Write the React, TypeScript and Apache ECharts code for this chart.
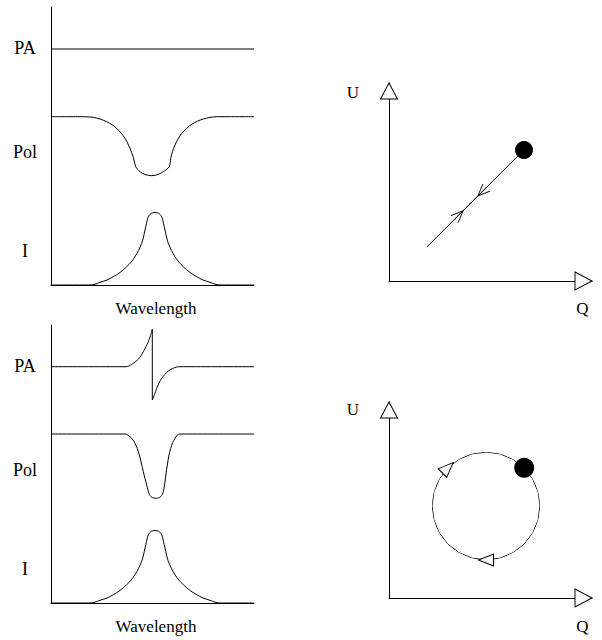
import React, { useEffect, useRef } from 'react';
import * as echarts from 'echarts';

// ---------- data ----------
const profileLabels = ['I', 'Pol', 'PA'];
const profileLabelLevels = [34, 133, 237];
const wavelengthLabel = 'Wavelength';
const qLabel = 'Q';
const uLabel = 'U';

// Profile panels: x = wavelength (0..203), y = stacked profile level (0..278)
const paTop = [[0, 236], [203, 236]];

const polTop = [
  [0, 168.3], [28, 168.3], [35, 168.2], [42.3, 167.7], [49, 166], [55.7, 163.3], [61, 160.3],
  [65.7, 156.7], [70, 152], [74, 146.7], [77, 141], [79.7, 135], [81.5, 130], [83, 125],
  [84.7, 118.3], [89, 113.3], [94, 110.5], [100.7, 109.3], [107, 110.5], [112.3, 113.3],
  [118.3, 118.3], [119.7, 126.7], [121.5, 133.5], [124, 140], [127, 146], [130.7, 151.7],
  [135.5, 156.5], [140.7, 160.7], [146.5, 163.8], [152.3, 166], [159, 167.6], [165.7, 168.3],
  [172, 168.3], [203, 168.3],
];

const intensity = [
  [0, 0], [30, 0], [39, 0], [44, 0.8], [49, 2.7], [56, 5], [62.3, 8.3], [69, 12.5], [75.7, 18.3],
  [80, 22.8], [84, 28.3], [87.5, 34.5], [90.7, 41.7], [92.5, 48], [94, 55], [95.5, 61.5],
  [96.7, 66.7], [98, 69.5], [99.7, 71.3], [101.5, 72.2], [104, 72.5], [106.5, 72.2], [108.3, 71.3],
  [110, 69.5], [111.3, 66.7], [112.5, 61.5], [114, 55], [115.5, 48], [117.3, 41.7], [120.5, 34.5],
  [124, 28.3], [128, 22.8], [132.3, 18.3], [139, 12.5], [145.7, 8.3], [152, 5], [159, 2.7],
  [164, 0.8], [169, 0], [178, 0], [203, 0],
];

const paBottom = [
  [0, 236.3], [68, 236.3], [75.7, 236.3], [80.7, 238.7], [84, 241], [87.3, 243.7], [90, 247.3],
  [92.3, 251.3], [95, 256.3], [97.3, 261.3], [99.5, 267.5], [101.3, 273.7], [101.3, 203],
  [103.5, 208.5], [105.7, 214.7], [108, 220], [110.7, 224.7], [114, 228.7], [117.3, 232],
  [121.5, 234.5], [125.7, 236], [129, 236.3], [136, 236.3], [203, 236.3],
];

const polBottom = [
  [0, 169], [66, 169], [74, 169], [79, 166.3], [82, 163], [84, 159.7], [86.3, 154.5], [88.3, 148],
  [90.3, 140], [92.3, 131.3], [94, 124.5], [95.7, 118], [97, 113], [98.3, 108.7], [100, 106.3],
  [101.7, 105.3], [103.7, 104.8], [105.7, 104.7], [107.8, 105.2], [109.7, 106.3], [111.3, 108.5],
  [112.3, 111.3], [113.2, 116], [114, 121.3], [115, 129], [116.3, 138], [117.8, 147],
  [119.7, 154.7], [121.7, 160.5], [124, 164.7], [125.7, 167.2], [127.3, 168.7], [130.7, 169],
  [138, 169], [203, 169],
];

// QU plane, top: straight track (Q, U in 0..100)
const quTrackTop = [[18.7, 17.2], [66.5, 66.2]];
const quDotTop = [66.5, 66.2];
const quTrackArrowPos = [[43.8, 42.9], [36.5, 35.5]];
const quTrackArrowDir = [225, 45];

// QU plane, bottom: loop (polar: radius, angle in degrees)
const loopRadius = 1;
const loopAngles = [0, 15, 30, 45, 60, 75, 90, 105, 120, 135, 150, 165, 180, 195, 210, 225, 240,
  255, 270, 285, 300, 315, 330, 345, 360];
const loopDotAngle = 45;
const loopArrowAngles = [135, 270];
const loopArrowDir = [45, 180];

// QU axis extents
const quAxisMax = 100;

// ---------- styles ----------
const FONT = 'Liberation Serif';
const BLACK = '#000';
const stickArrow = 'path://M0,5 L24,5 M0,0 L12,5 L0,10';
const openTri = 'path://M0,0 L15,6 L0,12 Z';
const qArrow = 'path://M0,0 L17,9 L0,18 Z';
const uArrow = 'path://M0,16 L8.5,0 L17,16 Z';

const axisLine = { show: true, onZero: false, lineStyle: { color: BLACK, width: 1 } };
const hidden = { show: false };

function labelFor(v: number) {
  const i = profileLabelLevels.indexOf(v);
  return i >= 0 ? profileLabels[i] : '';
}

function lineSeries(data: number[][], xi: number, extra: any = {}) {
  return {
    type: 'line',
    xAxisIndex: xi,
    yAxisIndex: xi,
    data,
    symbol: 'none',
    smooth: 0.3,
    clip: false,
    silent: true,
    lineStyle: { color: BLACK, width: 1 },
    ...extra,
  };
}

function buildOption() {
  const split = paBottom.findIndex((p, i) => i < paBottom.length - 1 && p[0] === paBottom[i + 1][0]);
  const paRise = paBottom.slice(0, split + 1);
  const paDrop = paBottom.slice(split, split + 2);
  const paFall = paBottom.slice(split + 1);

  const profileX = (gi: number) => ({
    type: 'value', gridIndex: gi, min: 0, max: 203,
    axisLine, axisTick: hidden, axisLabel: hidden, splitLine: hidden,
  });
  const profileY = (gi: number) => ({
    type: 'value', gridIndex: gi, min: 0, max: 278,
    axisLine, axisTick: hidden, splitLine: hidden,
    axisLabel: {
      show: true, customValues: profileLabelLevels, formatter: labelFor,
      margin: 26, align: 'center', color: BLACK, fontFamily: FONT, fontSize: 18,
    },
  });
  const quAxis = (gi: number) => ({
    type: 'value', gridIndex: gi, min: 0, max: quAxisMax,
    axisLine, axisTick: hidden, axisLabel: hidden, splitLine: hidden,
  });

  const axisArrows = (gi: number) => ({
    type: 'scatter', xAxisIndex: gi, yAxisIndex: gi, clip: false, silent: true, z: 5,
    itemStyle: { color: '#fff', borderColor: BLACK, borderWidth: 1, opacity: 1 },
    data: [
      { value: [quAxisMax, 0], symbol: qArrow, symbolSize: [17, 18], symbolOffset: [-8.5, 0] },
      { value: [0, quAxisMax], symbol: uArrow, symbolSize: [17, 16], symbolOffset: [0, 8] },
    ],
  });

  const txt = (text: string, x: number, y: number, size: number) => ({
    type: 'text', x, y, silent: true,
    style: {
      text, fill: BLACK, fontFamily: FONT, fontSize: size, fontWeight: 'normal',
      align: 'center', verticalAlign: 'middle', textAlign: 'center', textVerticalAlign: 'middle',
    },
  });

  return {
    animation: false,
    backgroundColor: '#fff',
    textStyle: { fontFamily: FONT },
    grid: [
      { left: 51, top: 7, width: 203, height: 278, outerBoundsMode: 'none' },
      { left: 51, top: 325, width: 203, height: 278, outerBoundsMode: 'none' },
      { left: 389, top: 83, width: 203, height: 198, outerBoundsMode: 'none' },
      { left: 389, top: 402, width: 203, height: 196, outerBoundsMode: 'none' },
    ],
    xAxis: [profileX(0), profileX(1), quAxis(2), quAxis(3)],
    yAxis: [profileY(0), profileY(1), quAxis(2), quAxis(3)],
    polar: { center: [486, 506], radius: 54 },
    angleAxis: { type: 'value', min: 0, max: 360, startAngle: 0, clockwise: false, show: false },
    radiusAxis: { type: 'value', min: 0, max: loopRadius, show: false },
    graphic: [
      txt(wavelengthLabel, 156, 308, 17),
      txt(wavelengthLabel, 156, 626, 17),
      txt(uLabel, 353, 92, 17),
      txt(qLabel, 582.5, 308, 17),
      txt(uLabel, 353, 409, 17),
      txt(qLabel, 582.5, 626, 17),
    ],
    series: [
      lineSeries(paTop, 0, { smooth: false }),
      lineSeries(polTop, 0),
      lineSeries(intensity, 0),
      lineSeries(paRise, 1),
      lineSeries(paDrop, 1, { smooth: false }),
      lineSeries(paFall, 1),
      lineSeries(polBottom, 1),
      lineSeries(intensity, 1),
      // QU top: track
      lineSeries(quTrackTop, 2, { smooth: false }),
      {
        type: 'scatter', xAxisIndex: 2, yAxisIndex: 2, clip: false, silent: true, z: 4,
        symbol: stickArrow, symbolSize: [24, 10],
        itemStyle: { color: 'rgba(0,0,0,0)', borderColor: BLACK, borderWidth: 1, opacity: 1 },
        data: quTrackArrowPos.map((p, i) => ({ value: p, symbolRotate: quTrackArrowDir[i] })),
      },
      {
        type: 'scatter', xAxisIndex: 2, yAxisIndex: 2, clip: false, silent: true, z: 6,
        symbol: 'circle', symbolSize: 18, itemStyle: { color: BLACK, opacity: 1 },
        data: [quDotTop],
      },
      axisArrows(2),
      axisArrows(3),
      // QU bottom: loop
      {
        type: 'line', coordinateSystem: 'polar', polarIndex: 0, symbol: 'none', silent: true,
        smooth: false, clip: false, lineStyle: { color: BLACK, width: 1 },
        data: loopAngles.map((a) => [loopRadius, a]),
      },
      {
        type: 'scatter', coordinateSystem: 'polar', polarIndex: 0, silent: true, z: 4,
        symbol: openTri, symbolSize: [15, 12],
        itemStyle: { color: '#fff', borderColor: BLACK, borderWidth: 1, opacity: 1 },
        data: loopArrowAngles.map((a, i) => ({ value: [loopRadius, a], symbolRotate: loopArrowDir[i] })),
      },
      {
        type: 'scatter', coordinateSystem: 'polar', polarIndex: 0, silent: true, z: 6,
        symbol: 'circle', symbolSize: 20, itemStyle: { color: BLACK, opacity: 1 },
        data: [[loopRadius, loopDotAngle]],
      },
    ],
  };
}

export default function App() {
  const ref = useRef<HTMLDivElement>(null);
  useEffect(() => {
    document.body.style.margin = '0';
    if (!ref.current) return;
    const chart = echarts.init(ref.current, null, { renderer: 'svg' });
    chart.setOption(buildOption() as any);
    return () => chart.dispose();
  }, []);
  return <div ref={ref} style={{ width: 602, height: 640 }} />;
}
